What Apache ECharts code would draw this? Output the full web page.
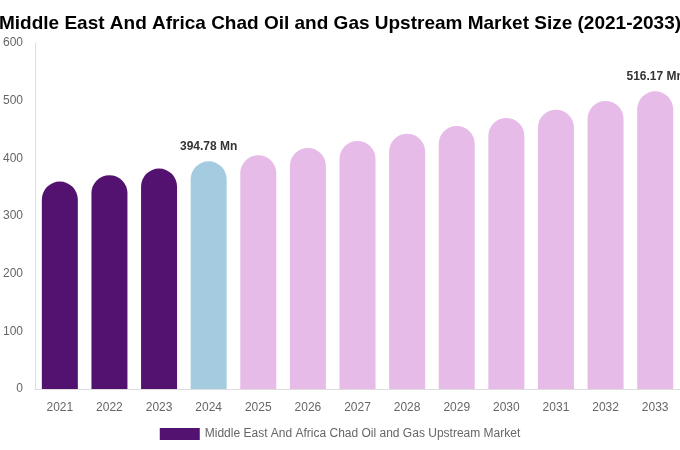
<!DOCTYPE html>
<html><head><meta charset="utf-8">
<script src="https://cdn.jsdelivr.net/npm/echarts@6/dist/echarts.min.js"></script>
<style>html,body{margin:0;padding:0;background:#fff}#c{width:680px;height:450px}</style>
</head><body><div id="c"></div>
<script>
const categories = ['2021','2022','2023','2024','2025','2026','2027','2028','2029','2030','2031','2032','2033'];
const values = [359.7, 370.8, 382.2, 394.78, 405.4, 418.0, 430.2, 442.8, 456.2, 470.0, 484.4, 499.5, 516.17];
const labelled = {3: '394.78 Mn', 12: '516.17 Mn'};
const seriesName = 'Middle East And Africa Chad Oil and Gas Upstream Market';
const colorFor = i => i < 3 ? '#541270' : (i === 3 ? '#a4cbdf' : '#e6bbe8');
const chart = echarts.init(document.getElementById('c'));
chart.setOption({
  animation: false,
  textStyle: {fontFamily: 'Liberation Sans, Arial, sans-serif'},
  title: {text: 'Middle East And Africa Chad Oil and Gas Upstream Market Size (2021-2033)', left: 'center', top: 9,
    textStyle: {fontSize: 19, fontWeight: 'bold', color: '#000', fontFamily: 'Liberation Sans, Arial, sans-serif'}},
  grid: {left: 34, right: 0, top: 43, bottom: 61},
  legend: {bottom: 5, left: 'center', itemWidth: 40, itemHeight: 12, itemGap: 6, icon: 'rect',
    textStyle: {color: '#666', fontSize: 12},
    data: [{name: seriesName, itemStyle: {color: '#541270'}}]},
  xAxis: {type: 'category', data: categories,
    axisLine: {lineStyle: {color: '#ddd'}}, axisTick: {show: false},
    axisLabel: {color: '#666', fontSize: 12, margin: 13}},
  yAxis: {type: 'value', min: 0, max: 600, interval: 100,
    axisLine: {show: true, lineStyle: {color: '#ddd'}}, splitLine: {show: false},
    axisLabel: {color: '#666', fontSize: 12, margin: 12}},
  series: [{name: seriesName, type: 'bar', barWidth: 36,
    data: values.map((v, i) => ({value: v, itemStyle: {color: colorFor(i), borderRadius: [18, 18, 0, 0]},
      label: {show: labelled[i] !== undefined, position: 'top', distance: 9, formatter: labelled[i] || '',
        fontWeight: 'bold', fontSize: 12, color: '#333'}})),
  }]
});
</script></body></html>
